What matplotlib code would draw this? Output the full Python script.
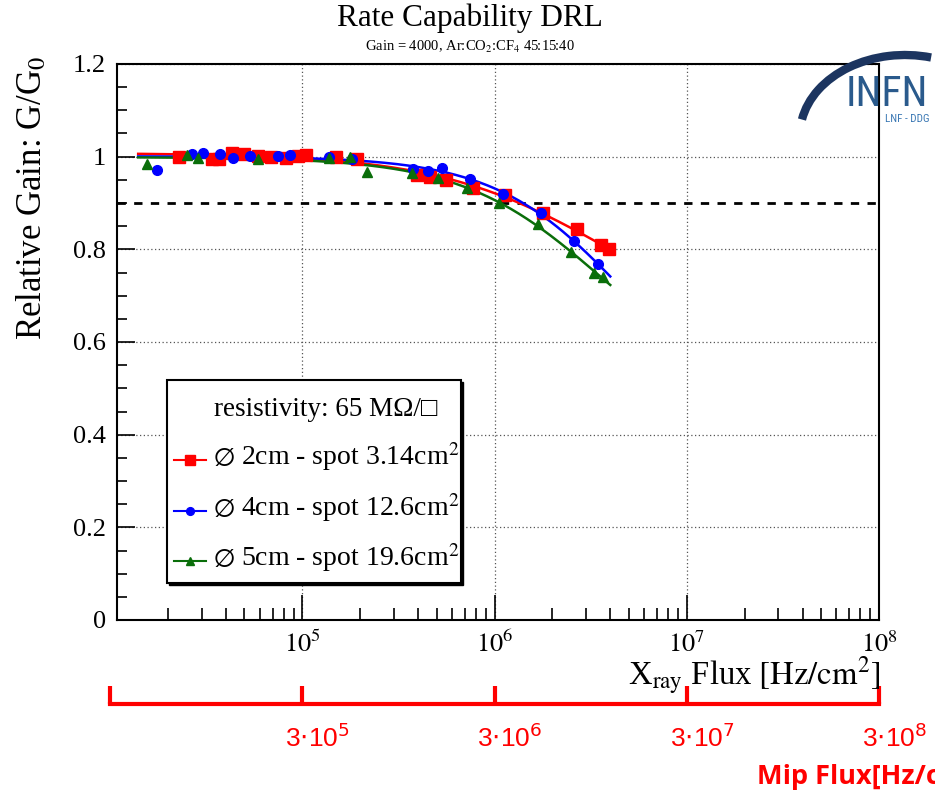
import numpy as np
import matplotlib
matplotlib.use("Agg")
import matplotlib.pyplot as plt
from matplotlib.patches import Rectangle, Arc
from matplotlib.lines import Line2D
from matplotlib.ticker import LogLocator, MultipleLocator, NullFormatter, FixedLocator

plt.rcParams['font.family'] = ['Liberation Serif', 'DejaVu Serif']
plt.rcParams['mathtext.fontset'] = 'stix'

# ---------------- data ----------------
red_x = [2.29e4, 3.40e4, 3.70e4, 4.31e4, 4.99e4, 5.90e4, 6.90e4, 8.26e4, 9.53e4, 1.05e5,
         1.50e5, 1.93e5, 3.97e5, 4.64e5, 5.56e5, 7.68e5, 1.14e6, 1.78e6, 2.70e6, 3.56e6, 3.92e6]
red_y = [0.999, 0.995, 0.995, 1.007, 1.006, 1.002, 1.000, 0.997, 1.001, 1.004,
         0.999, 0.994, 0.961, 0.957, 0.950, 0.932, 0.917, 0.879, 0.843, 0.809, 0.800]

blue_x = [1.75e4, 2.67e4, 3.04e4, 3.74e4, 4.38e4, 5.36e4, 7.50e4, 8.66e4, 1.37e5, 1.82e5,
          3.78e5, 4.48e5, 5.30e5, 7.41e5, 1.11e6, 1.74e6, 2.58e6, 3.44e6]
blue_y = [0.971, 1.005, 1.007, 1.006, 0.997, 1.002, 1.002, 1.003, 0.999, 0.995,
          0.973, 0.970, 0.975, 0.951, 0.919, 0.878, 0.819, 0.768]

green_x = [1.55e4, 2.51e4, 2.86e4, 5.90e4, 1.37e5, 1.76e5, 2.18e5, 3.74e5, 5.05e5, 7.22e5,
           1.05e6, 1.68e6, 2.49e6, 3.28e6, 3.65e6]
green_y = [0.985, 1.003, 0.998, 0.996, 0.998, 0.999, 0.967, 0.965, 0.953, 0.932,
           0.901, 0.854, 0.795, 0.748, 0.741]

series_labels = [r"$\varnothing$ 2cm - spot 3.14cm$^{2}$",
                 r"$\varnothing$ 4cm - spot 12.6cm$^{2}$",
                 r"$\varnothing$ 5cm - spot 19.6cm$^{2}$"]
legend_header = "resistivity: 65 MΩ/□"
threshold = 0.9
mip_ticks = [1e5, 1e6, 1e7, 1e8]
mip_labels = [r"3$\cdot$10$^{5}$", r"3$\cdot$10$^{6}$", r"3$\cdot$10$^{7}$", r"3$\cdot$10$^{8}$"]
fit_range = (1.4e4, 4.0e6)

# ---------------- fit: G = p0 - A / (1 + exp(-(log10 x - L0)/s)), least squares on the points ----------------
def fit_curve(xs, ys, xr):
    L = np.log10(np.asarray(xs))
    ys = np.asarray(ys)
    best = None
    for L0 in np.linspace(5.6, 7.6, 81):
        for s in np.linspace(0.15, 0.8, 53):
            f = 1.0 / (1.0 + np.exp(-(L - L0) / s))
            A_ = np.column_stack([np.ones_like(L), -f])
            coef, *_ = np.linalg.lstsq(A_, ys, rcond=None)
            sse = np.sum((A_ @ coef - ys) ** 2)
            if best is None or sse < best[0]:
                best = (sse, L0, s, coef)
    _, L0, s, coef = best
    Lr = np.log10(xr)
    return coef[0] - coef[1] / (1.0 + np.exp(-(Lr - L0) / s))

W, H = 935, 796
fig = plt.figure(figsize=(W / 100, H / 100), dpi=100)

def fx(px):
    return px / W

def fy(py):
    return 1 - py / H

ax = fig.add_axes([fx(117), fy(620), fx(879) - fx(117), fy(64) - fy(620)])
ax.set_xscale('log')
ax.set_xlim(10 ** 4.036, 1e8)
ax.set_ylim(0, 1.2)

xr = np.logspace(np.log10(fit_range[0]), np.log10(fit_range[1]), 300)
styles = [
    (red_x, red_y, '#ff0000', 's', 8.3),
    (blue_x, blue_y, '#0000ff', 'o', 7.0),
    (green_x, green_y, '#0a6e0a', '^', 7.8),
]
for xs, ys, c, m, ms in styles:
    ax.plot(xr, fit_curve(xs, ys, xr), color=c, lw=1.8, zorder=3)
for xs, ys, c, m, ms in styles:
    ax.plot(xs, ys, ls='none', marker=m, ms=ms, color=c, mec=c, zorder=4)

ax.axhline(threshold, color='black', ls=(0, (3, 3)), lw=2.0, zorder=2)

ax.grid(True, which='major', ls=(0, (1, 2)), color='#555555', lw=0.9)
ax.yaxis.set_major_locator(MultipleLocator(0.2))
ax.yaxis.set_minor_locator(MultipleLocator(0.05))
ax.xaxis.set_major_locator(FixedLocator([1e5, 1e6, 1e7, 1e8]))
ax.xaxis.set_minor_locator(LogLocator(base=10, subs=np.arange(2, 10), numticks=20))
ax.xaxis.set_minor_formatter(NullFormatter())
ax.set_yticks([0, 0.2, 0.4, 0.6, 0.8, 1.0, 1.2])
ax.set_yticklabels(["0", "0.2", "0.4", "0.6", "0.8", "1", "1.2"])
ax.set_xticks([1e5, 1e6, 1e7, 1e8])
ax.set_xticklabels([r"$10^{5}$", r"$10^{6}$", r"$10^{7}$", r"$10^{8}$"])
ax.tick_params(axis='both', which='both', direction='in', labelsize=19, width=1.2, color='black')
ax.tick_params(axis='y', which='major', length=13, pad=8)
ax.tick_params(axis='y', which='minor', length=7)
ax.tick_params(axis='x', which='major', length=18, pad=8)
ax.tick_params(axis='x', which='minor', length=9)
for s in ax.spines.values():
    s.set_linewidth(1.5)

fig.text(fx(32), fy(56), "Relative Gain: G/G$_{0}$", rotation=90, ha='center', va='top',
         fontsize=25)
fig.text(fx(880), fy(676), r"X$_{\rm ray}$ Flux $\left[\mathrm{Hz/cm^{2}}\right]$",
         ha='right', va='center', fontsize=23.5)

fig.text(fx(470), fy(18), "Rate Capability DRL", ha='center', va='center', fontsize=22.5)
fig.text(fx(470), fy(47), r"Gain = 4000, Ar:CO$_{2}$:CF$_{4}$ 45:15:40",
         ha='center', va='center', fontsize=10.5)

# ---------------- legend box ----------------
fig.patches.append(Rectangle((fx(169), fy(585)), fx(461) - fx(167), fy(380) - fy(583),
                             transform=fig.transFigure, facecolor='black', edgecolor='black', zorder=5))
fig.patches.append(Rectangle((fx(167), fy(583)), fx(461) - fx(167), fy(380) - fy(583),
                             transform=fig.transFigure, facecolor='white', edgecolor='black',
                             lw=1.5, zorder=6))
fig.text(fx(214), fy(410), legend_header, ha='left', va='center', fontsize=19.5,
         family=['Liberation Serif', 'DejaVu Sans'], zorder=7)
for i, (xs, ys, c, m, ms) in enumerate(styles):
    yy = [460, 511, 561][i]
    fig.add_artist(Line2D([fx(174), fx(206)], [fy(yy), fy(yy)], color=c, lw=1.5,
                          transform=fig.transFigure, zorder=7))
    fig.add_artist(Line2D([fx(190)], [fy(yy)], color=c, marker=m, ms=ms * 0.8, ls='none',
                          transform=fig.transFigure, zorder=8))
    fig.text(fx(213), fy(yy - 3), series_labels[i], ha='left', va='center', fontsize=20, zorder=7)

# ---------------- logo ----------------
arc = Arc((fx(905), fy(135)), fx(210), fy(0) - fy(160), theta1=74, theta2=170,
          transform=fig.transFigure, color='#1c3560', lw=6, zorder=10)
fig.patches.append(arc)
fig.text(fx(887), fy(95), "INFN", ha='center', va='center', fontsize=30, color='#2a5a8c',
         family=['Liberation Sans Narrow', 'Roboto Condensed', 'Liberation Sans'], zorder=11)
fig.text(fx(907), fy(119), "LNF - DDG", ha='center', va='center', fontsize=8, color='#3b78b4',
         family=['Liberation Sans Narrow', 'Roboto Condensed', 'Liberation Sans'], zorder=11)

# ---------------- Mip flux red axis ----------------
ax2 = fig.add_axes([fx(110), fy(704), fx(879) - fx(110), 0.0001])
ax2.set_xscale('log')
ax2.set_xlim(1e4, 1e8)
ax2.set_ylim(0, 1)
for k in ['left', 'right', 'top']:
    ax2.spines[k].set_visible(False)
ax2.spines['bottom'].set_color('#ff0000')
ax2.spines['bottom'].set_linewidth(3)
ax2.set_yticks([])
ax2.set_xticks([1e4] + mip_ticks)
ax2.set_xticklabels([])
ax2.xaxis.set_minor_locator(plt.NullLocator())
ax2.tick_params(axis='x', which='major', direction='in', length=13, width=3, color='#ff0000')
ax2.patch.set_visible(False)
for t, lab in zip(mip_ticks, mip_labels):
    ax2.annotate(lab, xy=(t, 0), xycoords=('data', 'axes fraction'), xytext=(11, -24),
                 textcoords='offset points', ha='center', va='center', fontsize=19, color='#ff0000',
                 family=['Liberation Sans', 'DejaVu Sans'], math_fontfamily='dejavusans',
                 annotation_clip=False)
fig.text(fx(757), fy(777), "Mip Flux[Hz/cm²]", ha='left', va='center', fontsize=19.5,
         fontweight='bold', color='#ff0000', family=['Open Sans', 'Liberation Sans', 'DejaVu Sans'])

fig.savefig("out.png", dpi=100)
